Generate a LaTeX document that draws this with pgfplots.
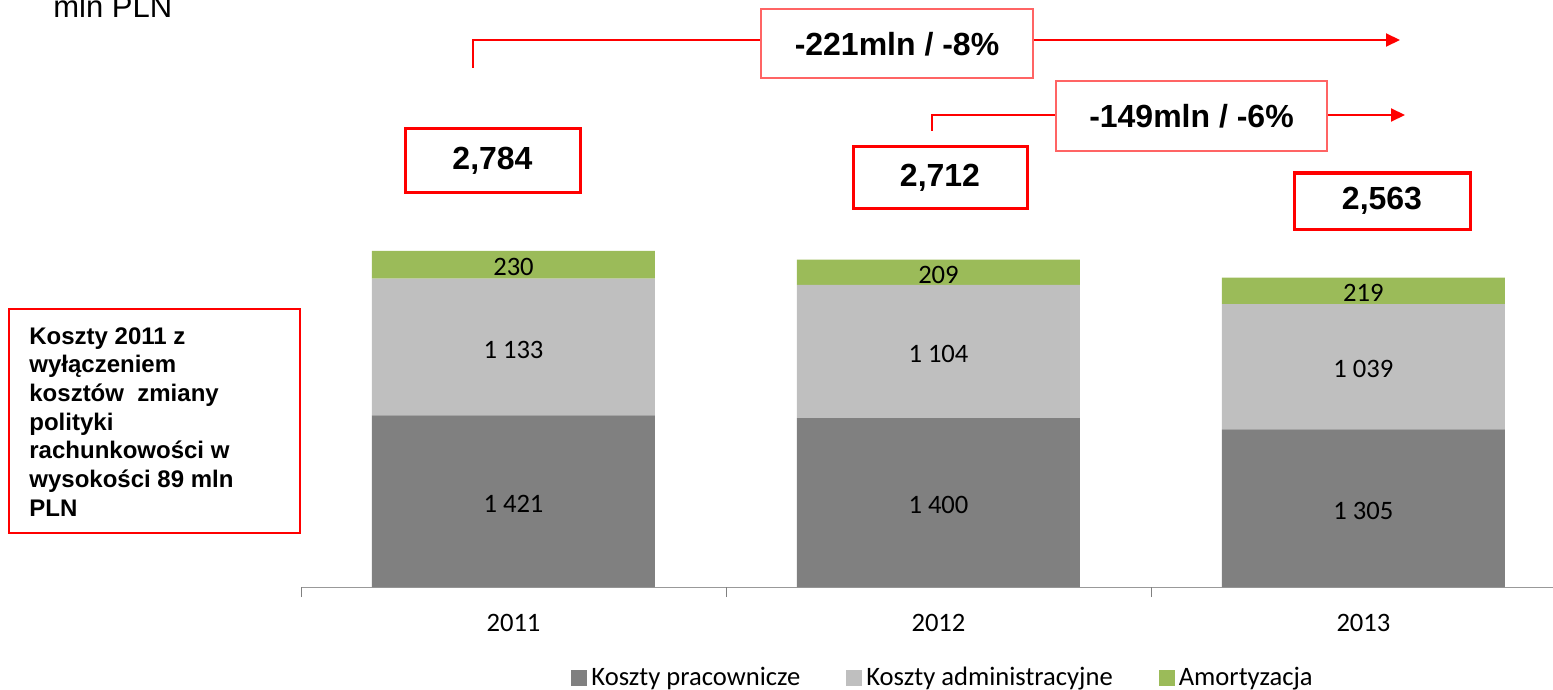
\documentclass[border=0pt]{standalone}
\usepackage{pgfplots}
\pgfplotsset{compat=1.18}
\usepackage{pgfplotstable}
\usepackage{fontspec}
\setmainfont{Liberation Sans}
\newfontfamily\calibri{Carlito}
\usetikzlibrary{arrows.meta}

\definecolor{darkbar}{HTML}{808080}
\definecolor{lightbar}{HTML}{BFBFBF}
\definecolor{greenbar}{HTML}{9BBB59}
\definecolor{boxred}{HTML}{FF0000}
\definecolor{softred}{HTML}{FF6464}

% costs in mln PLN
\pgfplotstableread{
x pracownicze administracyjne amortyzacja
0 1421 1133 230
1 1400 1104 209
2 1305 1039 219
}\costtable

\tikzset{lab/.style={font=\calibri\fontsize{13.3}{15}\selectfont, yshift=-1.2pt}}

\begin{document}
\begin{tikzpicture}
\begin{axis}[
  at={(150.5pt,-293.5pt)}, anchor=south west,
  scale only axis, width=626pt, height=293.5pt,
  ybar stacked, bar width=141.5pt,
  xmin=-0.5, xmax=2.446, ymin=0, ymax=4863,
  hide y axis, axis x line*=bottom,
  x axis line style={draw=black!40, -},
  xtick={0,1,2}, xticklabels={2011,2012,2013},
  major tick length=0pt,
  extra x ticks={-0.5,0.5,1.5}, extra x tick labels={},
  extra x tick style={major tick length=5pt, tick align=outside},
  xticklabel style={font=\calibri\fontsize{13.3}{15}\selectfont, yshift=-10pt},
  legend columns=3,
  legend image code/.code={\fill[#1] (0pt,-3.9pt) rectangle (8pt,3.9pt);},
  legend style={at={(0.5136,-0.155)}, anchor=center, draw=none, fill=none,
    font=\calibri\fontsize{13.3}{15}\selectfont,
    /tikz/every even column/.append style={column sep=21pt}},
  clip=false,
]
\addplot[draw=none, fill=darkbar] table[x=x, y=pracownicze] {\costtable};
\addlegendentry{Koszty pracownicze}
\addplot[draw=none, fill=lightbar] table[x=x, y=administracyjne] {\costtable};
\addlegendentry{Koszty administracyjne}
\addplot[draw=none, fill=greenbar] table[x=x, y=amortyzacja] {\costtable};
\addlegendentry{Amortyzacja}

% middle of each segment, for the value labels
\coordinate (a1) at (axis cs:0,710.5);
\coordinate (a2) at (axis cs:0,1987.5);
\coordinate (a3) at (axis cs:0,2669);
\coordinate (b1) at (axis cs:1,700);
\coordinate (b2) at (axis cs:1,1952);
\coordinate (b3) at (axis cs:1,2608.5);
\coordinate (c1) at (axis cs:2,652.5);
\coordinate (c2) at (axis cs:2,1824.5);
\coordinate (c3) at (axis cs:2,2453.5);
\end{axis}

\node[lab] at (a1) {1 421};
\node[lab] at (a2) {1 133};
\node[lab] at (a3) {230};
\node[lab] at (b1) {1 400};
\node[lab] at (b2) {1 104};
\node[lab] at (b3) {209};
\node[lab] at (c1) {1 305};
\node[lab] at (c2) {1 039};
\node[lab] at (c3) {219};

\begin{scope}[x=0.5pt, y=-0.5pt]
\node[anchor=base west, inner sep=0, font=\fontsize{15.5}{18}\selectfont] at (53,18) {mln PLN};

\draw[boxred, line width=1pt, -{Triangle[length=7pt,width=6.5pt]}] (473,68) -- (473,40) -- (1400,40);
\draw[boxred, line width=1pt, -{Triangle[length=7pt,width=6.5pt]}] (932,131) -- (932,115) -- (1405,115);

\filldraw[fill=white, draw=softred, line width=0.7pt] (761,9) rectangle (1033,78);
\node[font=\bfseries\fontsize{16}{19}\selectfont] at (897,44) {-221mln / -8\%};
\filldraw[fill=white, draw=softred, line width=0.7pt] (1056,81) rectangle (1327,151);
\node[font=\bfseries\fontsize{16}{19}\selectfont] at (1191.5,116) {-149mln / -6\%};

\draw[boxred, line width=1.5pt] (405,129) rectangle (580,192);
\node[font=\bfseries\fontsize{16}{19}\selectfont] at (492.5,160.5) {2,784};
\draw[boxred, line width=1.5pt] (853,147) rectangle (1027,208);
\node[font=\bfseries\fontsize{16}{19}\selectfont] at (940,177.5) {2,712};
\draw[boxred, line width=1.5pt] (1294,173) rectangle (1470,229);
\node[font=\bfseries\fontsize{16}{19}\selectfont] at (1382,201) {2,563};

\draw[boxred, line width=1pt] (9,309) rectangle (300,533);
\node[anchor=north west, inner sep=0, align=left, font=\bfseries\fontsize{12}{14.35}\selectfont] at (29,327)
  {Koszty 2011 z\\wyłączeniem\\kosztów\ \ zmiany\\polityki\\rachunkowości w\\wysokości 89 mln\\PLN};
\end{scope}

\pgfresetboundingbox
\path (0,0) rectangle (776.5pt,-345pt);
\end{tikzpicture}
\end{document}
